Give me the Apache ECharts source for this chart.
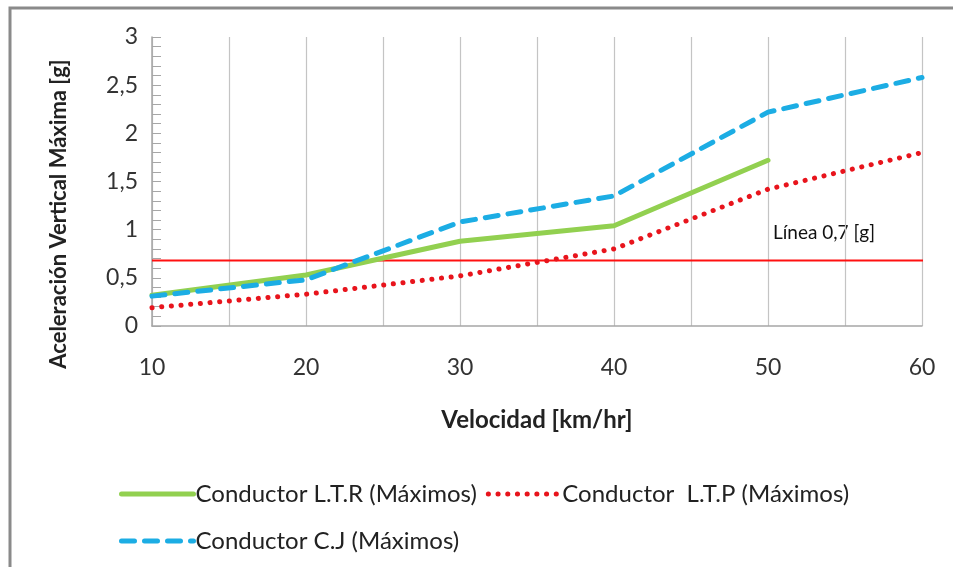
<!DOCTYPE html>
<html>
<head>
<meta charset="utf-8">
<script src="https://cdn.jsdelivr.net/npm/echarts@6/dist/echarts.min.js"></script>
<style>
html,body{margin:0;padding:0;background:#fff;}
#chart{width:953px;height:567px;}
</style>
</head>
<body>
<div id="chart"></div>
<script>
// ---- Data ----
const velocidad = [10, 20, 30, 40, 50, 60];
const ltrValues = [0.32, 0.53, 0.88, 1.04, 1.72, null];
const ltpValues = [0.19, 0.33, 0.52, 0.80, 1.42, 1.80];
const cjValues  = [0.31, 0.48, 1.08, 1.35, 2.22, 2.58];
const limitValue = 0.68;           // drawn "Línea 0,7 [g]"
const limitRange = [10, 61];
const seriesNames = ['Conductor L.T.R (Máximos)', 'Conductor  L.T.P (Máximos)', 'Conductor C.J (Máximos)'];
const xTicks = [10, 20, 30, 40, 50, 60];
const yTicks = [0, 0.5, 1, 1.5, 2, 2.5, 3];

const FONT = 'Lato';
const pairs = (xs, ys) => xs.map((x, i) => [x, ys[i]]).filter(p => p[1] !== null);

const chart = echarts.init(document.getElementById('chart'));
chart.setOption({
  animation: false,
  backgroundColor: '#fff',
  textStyle: { fontFamily: FONT },
  grid: { left: 152, right: 31, top: 37, bottom: 241, containLabel: false },
  xAxis: {
    type: 'value', min: 10, max: 60, interval: 5,
    name: 'Velocidad [km/hr]', nameLocation: 'middle', nameGap: 82,
    nameTextStyle: { fontFamily: FONT, fontWeight: 'bold', fontSize: 24, color: '#222' },
    axisLine: { show: true, lineStyle: { color: '#a6a6a6', width: 1.5 } },
    axisTick: { show: false },
    axisLabel: {
      fontFamily: FONT, fontSize: 23, color: '#333', margin: 30,
      formatter: v => xTicks.indexOf(v) >= 0 ? String(v) : ''
    },
    splitLine: { show: true, lineStyle: { color: '#c4c4c4', width: 1.2 } }
  },
  yAxis: {
    type: 'value', min: 0, max: 3, interval: 0.5,
    axisLine: { show: true, lineStyle: { color: '#a6a6a6', width: 1.5 } },
    axisTick: { show: true, inside: true, length: 9, lineStyle: { color: '#a6a6a6' } },
    minorTick: { show: true, splitNumber: 5, length: 9, lineStyle: { color: '#a6a6a6' } },
    axisLabel: {
      fontFamily: FONT, fontSize: 23, color: '#333', margin: 14,
      formatter: v => yTicks.indexOf(v) >= 0 ? String(v).replace('.', ',') : ''
    },
    splitLine: { show: false }
  },
  legend: [
    {
      data: [seriesNames[0], seriesNames[1]],
      left: 114, top: 477, itemWidth: 72, itemHeight: 14, itemGap: 9,
      itemStyle: { opacity: 0 },
      lineStyle: { width: 5 },
      textStyle: { fontFamily: FONT, fontSize: 24, color: '#222', padding: [0, 0, 0, -3] }
    },
    {
      data: [seriesNames[2]],
      left: 114, top: 524, itemWidth: 72, itemHeight: 14,
      itemStyle: { opacity: 0 },
      lineStyle: { width: 5 },
      textStyle: { fontFamily: FONT, fontSize: 24, color: '#222', padding: [0, 0, 0, -3] }
    }
  ],
  series: [
    {
      name: seriesNames[0], type: 'line', data: pairs(velocidad, ltrValues),
      symbol: 'none', z: 3,
      lineStyle: { color: '#92D050', width: 5, cap: 'round', join: 'round' },
      itemStyle: { color: '#92D050' }
    },
    {
      name: seriesNames[1], type: 'line', data: pairs(velocidad, ltpValues),
      symbol: 'none', z: 4,
      lineStyle: { color: '#E8141C', width: 5, type: [0.1, 9.6], cap: 'round' },
      itemStyle: { color: '#E8141C' }
    },
    {
      name: seriesNames[2], type: 'line', data: pairs(velocidad, cjValues),
      symbol: 'none', z: 5,
      lineStyle: { color: '#1CADE4', width: 5, type: [13, 10], cap: 'round' },
      itemStyle: { color: '#1CADE4' }
    },
    {
      name: 'Línea 0,7 [g]', type: 'line', clip: false, z: 2,
      data: limitRange.map(x => [x, limitValue]),
      symbol: 'none', silent: true,
      lineStyle: { color: '#FF1010', width: 2 }
    }
  ],
  graphic: [
    {
      type: 'rect', silent: true, z: -1,
      shape: { x: 10, y: 8, width: 1000, height: 700 },
      style: { fill: 'none', stroke: '#8a8a8a', lineWidth: 3 }
    },
    {
      type: 'text', silent: true,
      x: 59, y: 214, rotation: Math.PI / 2,
      style: {
        text: 'Aceleración Vertical Máxima [g]',
        font: 'bold 22px ' + FONT, fill: '#222',
        textAlign: 'center', textVerticalAlign: 'middle'
      }
    },
    {
      type: 'text', silent: true,
      x: 773, y: 233,
      style: {
        text: 'Línea 0,7 [g]', font: '19px ' + FONT, fill: '#111',
        textAlign: 'left', textVerticalAlign: 'middle'
      }
    }
  ]
});
</script>
</body>
</html>
